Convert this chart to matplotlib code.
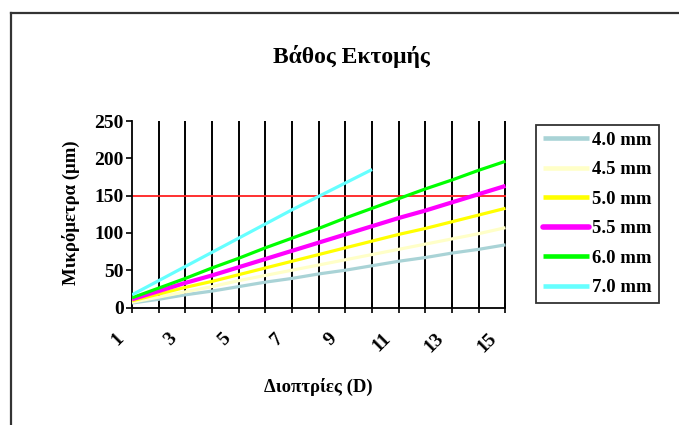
import matplotlib.pyplot as plt
import matplotlib.transforms as mtransforms
from matplotlib.lines import Line2D

# Διοπτρίες 1..15 και βάθος εκτομής (μm) ανά διάμετρο ζώνης
dioptries = list(range(1, 16))
depth_40 = [6, 11, 17, 22, 28, 34, 39, 45, 50, 56, 62, 67, 73, 78, 84]
depth_45 = [7, 14, 21, 28, 36, 43, 50, 57, 64, 71, 78, 85, 92, 99, 107]
depth_50 = [9, 18, 27, 35, 44, 53, 62, 71, 80, 89, 98, 106, 115, 124, 133]
depth_55 = [11, 22, 33, 43, 54, 65, 76, 87, 98, 109, 120, 130, 141, 152, 163]
depth_60 = [13, 26, 39, 53, 66, 80, 93, 106, 120, 133, 146, 159, 171, 184, 196]
depth_70 = [17, 36, 55, 74, 93, 112, 131, 149, 167, 185]
orio = 150  # όριο βάθους

labels = ['4.0 mm', '4.5 mm', '5.0 mm', '5.5 mm', '6.0 mm', '7.0 mm']
colors = ['#a9d3d6', '#ffffc8', '#ffff00', '#ff00ff', '#00ff00', '#66ffff']
widths = [2.3, 2.3, 2.3, 3.0, 2.3, 2.3]
series = [depth_40, depth_45, depth_50, depth_55, depth_60, depth_70]

plt.rcParams['font.family'] = ['Liberation Serif', 'DejaVu Serif']
plt.rcParams['font.weight'] = 'bold'
plt.rcParams['axes.labelweight'] = 'bold'

fig = plt.figure(figsize=(6.79, 4.25), dpi=100)
ax = fig.add_axes([132 / 679, 117.5 / 425, 373.5 / 679, 186.5 / 425])

# πλαίσιο γραφήματος
fig.add_artist(Line2D([10.5 / 679, 10.5 / 679], [0, 1 - 12.5 / 425], color='#333333', lw=1.6))
fig.add_artist(Line2D([10.5 / 679, 1], [1 - 12.5 / 425, 1 - 12.5 / 425], color='#333333', lw=1.6))

# κάθετες γραμμές πλέγματος
for d in dioptries[1:]:
    ax.axvline(d, color='black', lw=1.4, zorder=1)

ax.axhline(orio, color='#ff2020', lw=1.3, zorder=2)

handles = []
for vals, lab, c, w in zip(series, labels, colors, widths):
    ax.plot(dioptries[:len(vals)], vals, color=c, lw=w, solid_capstyle='butt', zorder=3)
    # πιο χοντρές γραμμές στο υπόμνημα
    cap = 'round' if w > 2.5 else 'butt'
    handles.append(Line2D([], [], color=c, lw=w + 1.0, solid_capstyle=cap, label=lab))

ax.set_xlim(1, 15)
ax.set_ylim(0, 250)
ax.set_yticks([0, 50, 100, 150, 200, 250])
ax.set_xticks(dioptries)
ax.set_xticklabels([str(d) if d % 2 == 1 else '' for d in dioptries],
                   rotation=45, rotation_mode='anchor', ha='right', va='center', fontsize=14)
ax.tick_params(axis='x', direction='inout', length=7, width=1.2, pad=17)
ax.tick_params(axis='y', direction='out', length=4, width=1.2, labelsize=14, pad=2)
# ετικέτες x λίγο αριστερά του σημαδιού
offset = mtransforms.ScaledTranslation(-11 / 100, 0, fig.dpi_scale_trans)
for lbl in ax.get_xticklabels():
    lbl.set_transform(lbl.get_transform() + offset)

for s in ['top', 'right']:
    ax.spines[s].set_visible(False)
for s in ['left', 'bottom']:
    ax.spines[s].set_linewidth(1.3)

ax.set_ylabel('Μικρόμετρα (μm)', fontsize=13.5)
ax.yaxis.set_label_coords(-0.14, 0.507)
ax.set_xlabel('Διοπτρίες (D)', fontsize=13.5)
ax.xaxis.set_label_coords(0.498, -0.378)

fig.text(351 / 679, 1 - 57 / 425, 'Βάθος Εκτομής', ha='center', va='center', fontsize=17)

leg = fig.legend(handles=handles, loc='upper left', bbox_to_anchor=(536 / 679, 1 - 125 / 425),
                 frameon=True, fancybox=False, edgecolor='black', fontsize=13.5,
                 handlelength=2.5, handletextpad=0.16, labelspacing=0.66, borderpad=0.35,
                 borderaxespad=0)
leg.get_frame().set_linewidth(1.3)

fig.savefig('out.png', dpi=100)
